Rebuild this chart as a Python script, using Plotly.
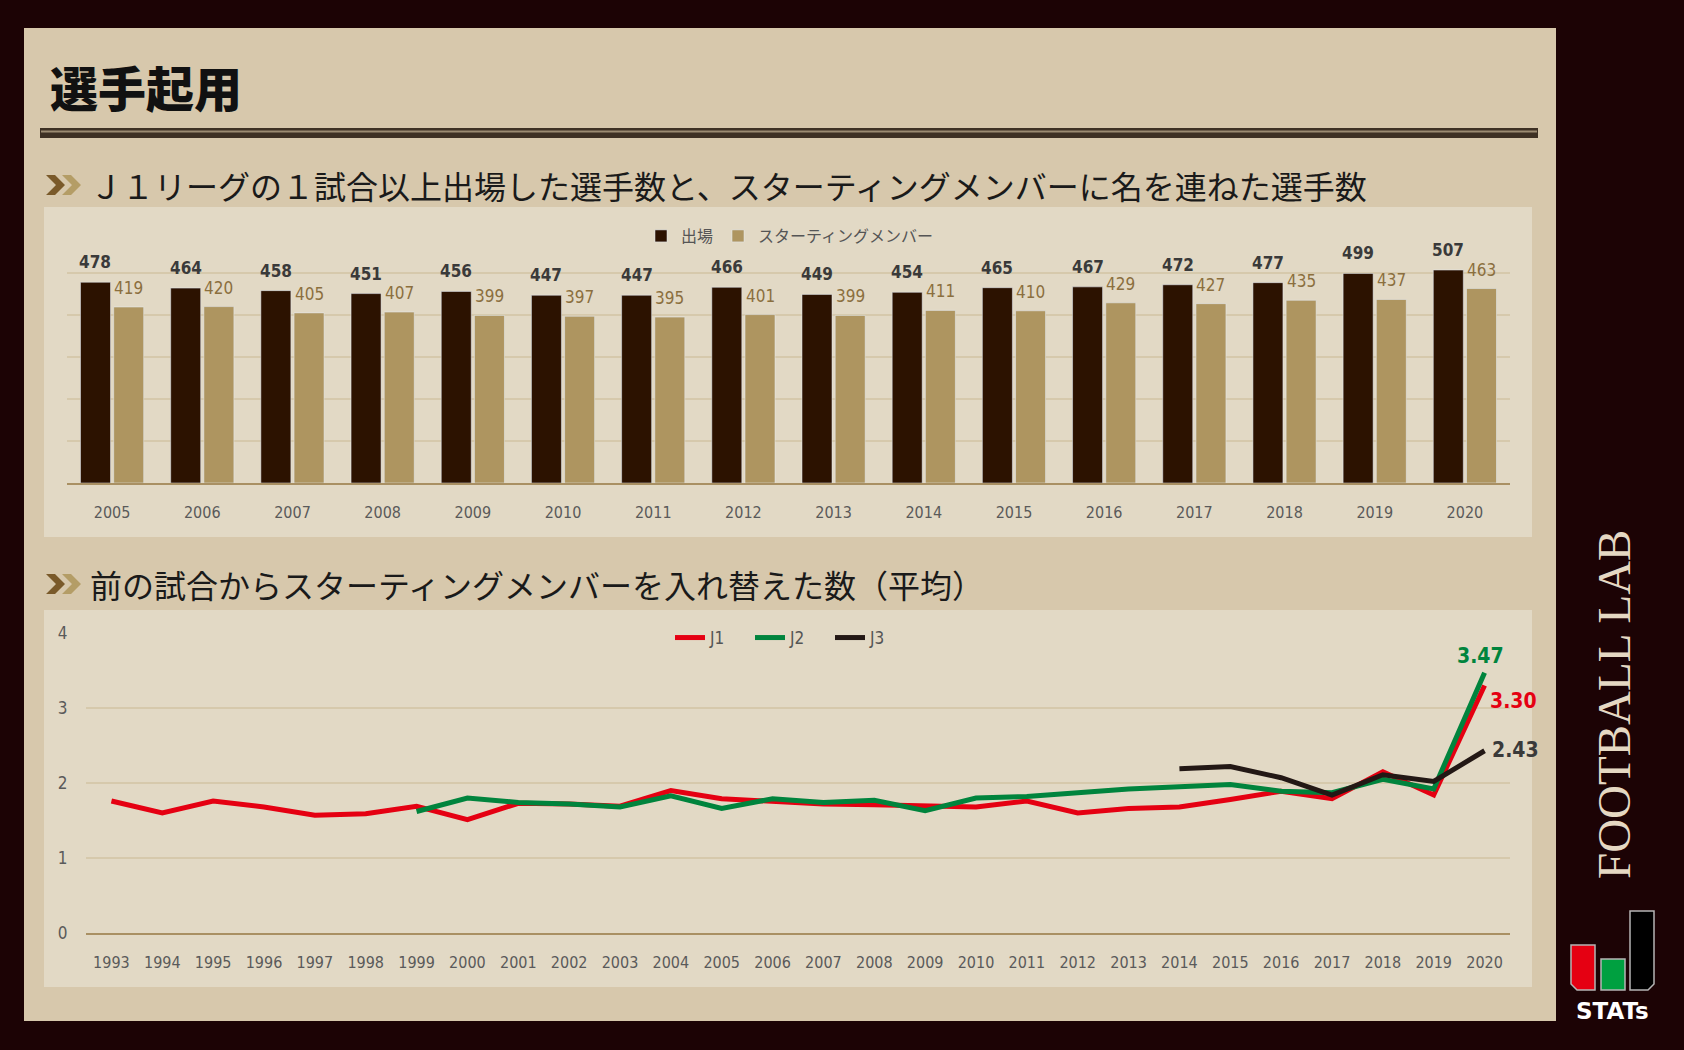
import plotly.graph_objects as go

W, H = 1684, 1050

# ---------------- data ----------------
bar_years = [str(y) for y in range(2005, 2021)]
appeared = [478, 464, 458, 451, 456, 447, 447, 466, 449, 454, 465, 467, 472, 477, 499, 507]
starters = [419, 420, 405, 407, 399, 397, 395, 401, 399, 411, 410, 429, 427, 435, 437, 463]

line_years = [str(y) for y in range(1993, 2021)]
j1_years = [str(y) for y in range(1993, 2021)]
j1 = [1.76, 1.60, 1.76, 1.68, 1.57, 1.59, 1.69, 1.51, 1.73, 1.72, 1.69, 1.90, 1.79, 1.76,
      1.72, 1.71, 1.70, 1.68, 1.76, 1.60, 1.66, 1.68, 1.78, 1.89, 1.79, 2.15, 1.84, 3.30]
j2_years = [str(y) for y in range(1999, 2021)]
j2 = [1.62, 1.80, 1.74, 1.72, 1.68, 1.83, 1.66, 1.79, 1.74, 1.77, 1.63, 1.80, 1.82, 1.87,
      1.92, 1.95, 1.98, 1.89, 1.87, 2.05, 1.92, 3.47]
j3_years = [str(y) for y in range(2014, 2021)]
j3 = [2.19, 2.22, 2.07, 1.84, 2.11, 2.02, 2.43]

title = "選手起用"
sub1 = "Ｊ１リーグの１試合以上出場した選手数と、スターティングメンバーに名を連ねた選手数"
sub2 = "前の試合からスターティングメンバーを入れ替えた数（平均）"
bar_names = ["出場", "スターティングメンバー"]
line_names = ["J1", "J2", "J3"]

# ---------------- style ----------------
BG = "#1c0305"
PANEL = "#d7c8ac"
INNER = "#e2d9c5"
GRID = "#d6c9ac"
BASE = "#a99063"
DARK = "#2c1200"
GOLD = "#ae9560"
RED = "#e50012"
GREEN = "#00843d"
BLACK = "#231815"
JP = "Noto Sans CJK JP"
NARROW = "Liberation Sans Narrow, DejaVu Sans Condensed, Roboto, sans-serif"
TICK = "#5a5a5a"


def px(x):
    return x / W


def py(y):
    return 1 - y / H


fig = go.Figure()

fig.add_trace(go.Bar(x=bar_years, y=appeared, name=bar_names[0], marker_color=DARK,
                     xaxis="x", yaxis="y", legend="legend"))
fig.add_trace(go.Bar(x=bar_years, y=starters, name=bar_names[1], marker_color=GOLD,
                     xaxis="x", yaxis="y", legend="legend"))

for name, xs, ys, col in [(line_names[0], j1_years, j1, RED),
                          (line_names[1], j2_years, j2, GREEN),
                          (line_names[2], j3_years, j3, BLACK)]:
    fig.add_trace(go.Scatter(x=xs, y=ys, name=name, mode="lines",
                             line=dict(color=col, width=5),
                             xaxis="x2", yaxis="y2", legend="legend2"))

shapes = []
# panels
shapes.append(dict(type="rect", xref="paper", yref="paper", layer="below",
                   x0=px(24), x1=px(1556), y0=py(1021), y1=py(28),
                   fillcolor=PANEL, line=dict(width=0)))
for (y0, y1) in [(207, 537), (610, 987)]:
    shapes.append(dict(type="rect", xref="paper", yref="paper", layer="below",
                       x0=px(44), x1=px(1532), y0=py(y1), y1=py(y0),
                       fillcolor=INNER, line=dict(width=0)))
# title rule
shapes.append(dict(type="rect", xref="paper", yref="paper", layer="below",
                   x0=px(40), x1=px(1538), y0=py(138), y1=py(128),
                   fillcolor="#3e3124", line=dict(width=0)))
shapes.append(dict(type="line", xref="paper", yref="paper", layer="below",
                   x0=px(41), x1=px(1537), y0=py(131.5), y1=py(131.5),
                   line=dict(color="#9c8c72", width=2)))


def chevron(x, y, w, h, a, color):
    pts = [(x, y), (x + a, y), (x + w, y + h / 2), (x + a, y + h), (x, y + h), (x + w - a, y + h / 2)]
    path = "M " + " L ".join(f"{px(p[0])},{py(p[1])}" for p in pts) + " Z"
    return dict(type="path", xref="paper", yref="paper", path=path,
                fillcolor=color, line=dict(width=0))


for yc in (185, 584):
    shapes.append(chevron(46, yc - 10, 19, 20, 9, "#7a5a2a"))
    shapes.append(chevron(62, yc - 10, 19, 20, 9, "#b49d66"))


# STATs logo
def poly(pts, fill):
    path = "M " + " L ".join(f"{px(p[0])},{py(p[1])}" for p in pts) + " Z"
    return dict(type="path", xref="paper", yref="paper", path=path,
                fillcolor=fill, line=dict(color="#b5b5b5", width=1.5))


shapes.append(poly([(1571, 945), (1595, 945), (1595, 990), (1577, 990), (1571, 984)], RED))
shapes.append(poly([(1601, 959), (1625, 959), (1625, 990), (1601, 990)], "#00a040"))
shapes.append(poly([(1630, 911), (1654, 911), (1654, 984), (1648, 990), (1630, 990)], "#000000"))

annotations = []
annotations.append(dict(text=title, xref="paper", yref="paper", x=px(48), y=py(86),
                        xanchor="left", yanchor="middle", showarrow=False,
                        font=dict(family=JP, size=48, color="#111111", weight=900)))
for txt, yc in [(sub1, 185), (sub2, 584)]:
    annotations.append(dict(text=txt, xref="paper", yref="paper", x=px(88), y=py(yc),
                            xanchor="left", yanchor="middle", showarrow=False,
                            font=dict(family=JP, size=32, color="#1a1a1a")))

# bar value labels (x given as category index on the category axis)
for i, (a, s) in enumerate(zip(appeared, starters)):
    annotations.append(dict(text=f"<b>{a}</b>", x=i, y=a, xref="x", yref="y",
                            xshift=-16.6, yshift=8, xanchor="center", yanchor="bottom",
                            showarrow=False, font=dict(family=NARROW, size=17, color="#3a3a3a")))
    annotations.append(dict(text=f"{s}", x=i, y=s, xref="x", yref="y",
                            xshift=16.6, yshift=7, xanchor="center", yanchor="bottom",
                            showarrow=False, font=dict(family=NARROW, size=17, color="#8b6f3e")))

# line end labels
k1 = line_years.index(j1_years[-1])
k2 = line_years.index(j2_years[-1])
k3 = line_years.index(j3_years[-1])
annotations.append(dict(text=f"<b>{j2[-1]:.2f}</b>", x=k2, y=j2[-1], xref="x2", yref="y2",
                        xshift=-4, yshift=3, xanchor="center", yanchor="bottom", showarrow=False,
                        font=dict(family=NARROW, size=21, color=GREEN)))
annotations.append(dict(text=f"<b>{j1[-1]:.2f}</b>", x=k1, y=j1[-1], xref="x2", yref="y2",
                        xshift=3, yshift=-15, xanchor="left", yanchor="middle", showarrow=False,
                        font=dict(family=NARROW, size=21, color=RED)))
annotations.append(dict(text=f"<b>{j3[-1]:.2f}</b>", x=k3, y=j3[-1], xref="x2", yref="y2",
                        xshift=5, yshift=1, xanchor="left", yanchor="middle", showarrow=False,
                        font=dict(family=NARROW, size=21, color="#3a3a3a")))

# brand
annotations.append(dict(text="FOOTBALL LAB", xref="paper", yref="paper", x=px(1614), y=py(705),
                        xanchor="center", yanchor="middle", textangle=-90, showarrow=False,
                        font=dict(family="Liberation Serif, DejaVu Serif, serif", size=47, color="#e5d8c3")))
annotations.append(dict(text="<b>STATs</b>", xref="paper", yref="paper", x=px(1612), y=py(1011),
                        xanchor="center", yanchor="middle", showarrow=False,
                        font=dict(family="DejaVu Sans, sans-serif", size=23, color="#ffffff")))

fig.update_layout(
    width=W, height=H,
    margin=dict(l=0, r=0, t=0, b=0, autoexpand=False),
    paper_bgcolor=BG, plot_bgcolor="rgba(0,0,0,0)",
    font=dict(family=JP),
    barmode="group", bargap=0.264, bargroupgap=0.096,
    shapes=shapes, annotations=annotations,
    xaxis=dict(domain=[px(67), px(1510)], anchor="y", type="category",
               categoryorder="array", categoryarray=bar_years, range=[-0.5, len(bar_years) - 0.5],
               showgrid=False, showline=True, linecolor=BASE, linewidth=2, automargin=False,
               ticks="outside", ticklen=14, tickcolor="rgba(0,0,0,0)",
               tickfont=dict(family=NARROW, size=16, color=TICK), fixedrange=True),
    yaxis=dict(domain=[py(483), py(231)], anchor="x", range=[0, 600], dtick=100,
               showgrid=True, gridcolor=GRID, gridwidth=2, zeroline=False, automargin=False,
               showticklabels=False, showline=False, fixedrange=True),
    xaxis2=dict(domain=[px(86), px(1510)], anchor="y2", type="category",
                categoryorder="array", categoryarray=line_years, range=[-0.5, len(line_years) - 0.5],
                showgrid=False, showline=True, linecolor=BASE, linewidth=2, automargin=False,
                ticks="outside", ticklen=14, tickcolor="rgba(0,0,0,0)",
                tickfont=dict(family=NARROW, size=16, color=TICK), fixedrange=True),
    yaxis2=dict(domain=[py(933), py(633)], anchor="x2", range=[0, 4], dtick=1,
                showgrid=True, gridcolor=GRID, gridwidth=2, zeroline=False, automargin=False,
                ticks="outside", ticklen=14, tickcolor="rgba(0,0,0,0)",
                tickfont=dict(family=NARROW, size=17, color=TICK), showline=False, fixedrange=True),
    legend=dict(orientation="h", x=px(790), y=py(236), xanchor="center", yanchor="middle",
                bgcolor="rgba(0,0,0,0)", font=dict(family=JP, size=16, color="#555555"),
                itemclick=False, itemdoubleclick=False),
    legend2=dict(orientation="h", x=px(790), y=py(638), xanchor="center", yanchor="middle",
                 bgcolor="rgba(0,0,0,0)", font=dict(family=NARROW, size=17, color="#555555"),
                 entrywidth=35, itemclick=False, itemdoubleclick=False),
    showlegend=True,
)

fig.write_html("out.html")
